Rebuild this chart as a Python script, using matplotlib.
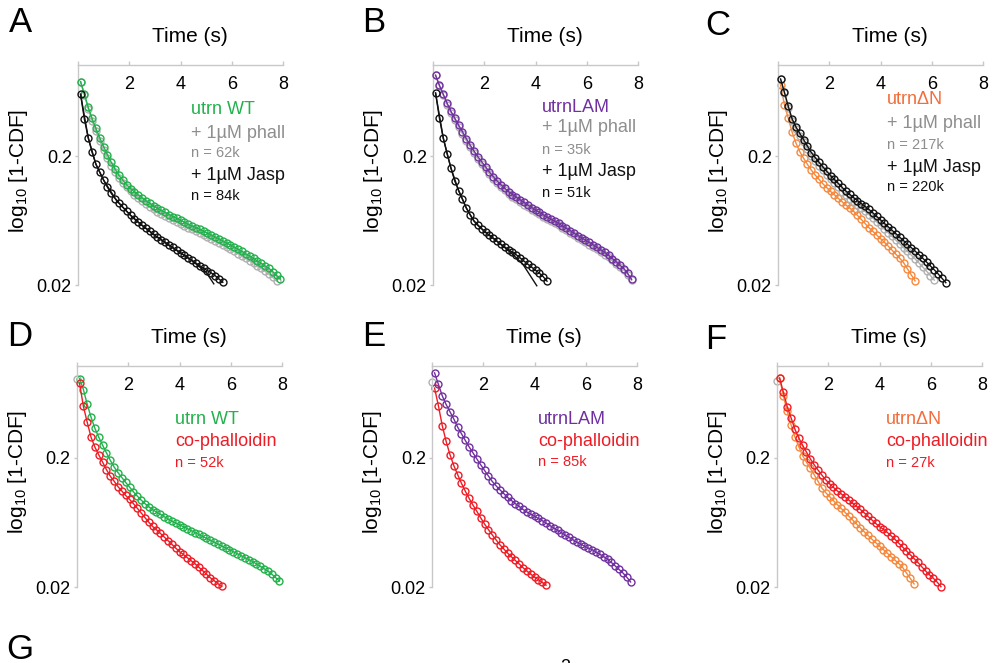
import numpy as np
import matplotlib
matplotlib.use("Agg")
import matplotlib.pyplot as plt
from matplotlib.ticker import NullLocator

plt.rcParams['font.family'] = ['Liberation Sans', 'DejaVu Sans']
plt.rcParams['mathtext.default'] = 'regular'

W, H = 997, 663

# shared time grid of the binned dwell-time curves (s)
TIME = [0.10, 0.25, 0.40, 0.55, 0.70, 0.85, 1.00, 1.15, 1.30, 1.45,
        1.60, 1.75, 1.90, 2.05, 2.20, 2.35, 2.50, 2.65, 2.80, 2.95,
        3.10, 3.25, 3.40, 3.55, 3.70, 3.85, 4.00, 4.15, 4.30, 4.45,
        4.60, 4.75, 4.90, 5.05, 5.20, 5.35, 5.50, 5.65, 5.80, 5.95,
        6.10, 6.25, 6.40, 6.55, 6.70, 6.85, 7.00, 7.15, 7.30, 7.45,
        7.60, 7.75, 7.90]

# log10(1-CDF)
A_WT = [-0.116, -0.214, -0.316, -0.403, -0.481, -0.554, -0.622, -0.686, -0.745, -0.798,
        -0.846, -0.884, -0.919, -0.949, -0.974, -0.999, -1.021, -1.043, -1.064, -1.085,
        -1.102, -1.118, -1.134, -1.151, -1.166, -1.180, -1.195, -1.210, -1.225, -1.239,
        -1.252, -1.266, -1.280, -1.295, -1.309, -1.324, -1.339, -1.355, -1.371, -1.387,
        -1.403, -1.420, -1.438, -1.456, -1.474, -1.492, -1.511, -1.530, -1.550, -1.569,
        -1.595, -1.624, -1.653]
A_PHALL = [-0.118, -0.222, -0.330, -0.422, -0.503, -0.578, -0.648, -0.712, -0.770, -0.822,
           -0.868, -0.906, -0.940, -0.970, -0.997, -1.022, -1.045, -1.067, -1.089, -1.110,
           -1.128, -1.145, -1.161, -1.177, -1.192, -1.207, -1.222, -1.237, -1.252, -1.266,
           -1.280, -1.294, -1.309, -1.324, -1.339, -1.355, -1.371, -1.387, -1.404, -1.421,
           -1.438, -1.456, -1.474, -1.492, -1.511, -1.530, -1.550, -1.570, -1.592, -1.615,
           -1.640, -1.668]
A_JASP = [-0.215, -0.410, -0.554, -0.667, -0.760, -0.822, -0.883, -0.939, -0.987, -1.026,
          -1.062, -1.094, -1.125, -1.157, -1.184, -1.211, -1.234, -1.257, -1.281, -1.305,
          -1.327, -1.346, -1.366, -1.387, -1.407, -1.427, -1.447, -1.467, -1.487, -1.507,
          -1.528, -1.549, -1.569, -1.587, -1.605, -1.626, -1.652, -1.678]
A_JASP_FIT_T = [0.1, 0.4, 0.7, 1.0, 1.5, 2.0, 2.5, 3.0, 3.5, 4.0, 4.5, 5.0, 5.3]
A_JASP_FIT = [-0.215, -0.554, -0.760, -0.883, -1.040, -1.147, -1.236, -1.313, -1.385,
              -1.450, -1.518, -1.600, -1.690]

B_LAM = [-0.066, -0.145, -0.214, -0.284, -0.347, -0.401, -0.455, -0.506, -0.560, -0.610,
         -0.656, -0.700, -0.740, -0.779, -0.819, -0.855, -0.888, -0.919, -0.946, -0.973,
         -0.995, -1.016, -1.036, -1.057, -1.077, -1.096, -1.115, -1.134, -1.153, -1.170,
         -1.186, -1.203, -1.220, -1.239, -1.257, -1.276, -1.295, -1.314, -1.332, -1.350,
         -1.368, -1.386, -1.406, -1.426, -1.446, -1.466, -1.493, -1.519, -1.545, -1.571,
         -1.609, -1.655]
B_PHALL = [-0.068, -0.150, -0.224, -0.296, -0.360, -0.415, -0.470, -0.522, -0.576, -0.626,
           -0.672, -0.716, -0.756, -0.795, -0.835, -0.871, -0.904, -0.935, -0.962, -0.989,
           -1.011, -1.032, -1.052, -1.073, -1.093, -1.112, -1.131, -1.150, -1.169, -1.186,
           -1.202, -1.219, -1.236, -1.255, -1.273, -1.292, -1.311, -1.330, -1.348, -1.366,
           -1.384, -1.402, -1.422, -1.442, -1.462, -1.482, -1.508, -1.533, -1.558, -1.583,
           -1.618, -1.662]
B_JASP = [-0.205, -0.400, -0.555, -0.678, -0.789, -0.890, -0.964, -1.031, -1.100, -1.154,
          -1.201, -1.236, -1.262, -1.288, -1.311, -1.334, -1.358, -1.382, -1.403, -1.424,
          -1.444, -1.464, -1.488, -1.513, -1.537, -1.560, -1.584, -1.607, -1.634, -1.669]
B_JASP_FIT_T = [0.1, 0.4, 0.7, 1.0, 1.3, 1.6, 2.0, 2.5, 3.0, 3.5, 4.05]
B_JASP_FIT = [-0.205, -0.555, -0.789, -0.964, -1.100, -1.201, -1.281, -1.360, -1.440,
              -1.535, -1.705]

C_DN = [-0.142, -0.295, -0.401, -0.509, -0.594, -0.662, -0.713, -0.761, -0.805, -0.843,
        -0.877, -0.911, -0.941, -0.970, -0.997, -1.024, -1.051, -1.077, -1.100, -1.125,
        -1.157, -1.189, -1.221, -1.253, -1.281, -1.310, -1.338, -1.366, -1.396, -1.428,
        -1.460, -1.491, -1.525, -1.573, -1.620, -1.667]
C_PHALL = [-0.098, -0.205, -0.318, -0.420, -0.485, -0.537, -0.588, -0.641, -0.692, -0.732,
           -0.770, -0.807, -0.842, -0.878, -0.909, -0.940, -0.972, -1.002, -1.029, -1.055,
           -1.079, -1.103, -1.127, -1.151, -1.178, -1.207, -1.236, -1.264, -1.292, -1.321,
           -1.350, -1.379, -1.408, -1.437, -1.466, -1.496, -1.527, -1.559, -1.592, -1.626,
           -1.661]
C_JASP = [-0.096, -0.199, -0.307, -0.406, -0.469, -0.519, -0.568, -0.619, -0.668, -0.707,
          -0.744, -0.780, -0.814, -0.848, -0.878, -0.908, -0.939, -0.968, -0.994, -1.019,
          -1.042, -1.065, -1.088, -1.111, -1.137, -1.165, -1.192, -1.219, -1.246, -1.273,
          -1.300, -1.327, -1.354, -1.381, -1.408, -1.435, -1.462, -1.491, -1.521, -1.551,
          -1.581, -1.613, -1.647, -1.681]

D_WT = [-0.085, -0.170, -0.285, -0.385, -0.471, -0.539, -0.601, -0.660, -0.718, -0.770,
        -0.813, -0.851, -0.889, -0.925, -0.961, -0.994, -1.025, -1.053, -1.077, -1.100,
        -1.118, -1.136, -1.154, -1.172, -1.188, -1.203, -1.217, -1.232, -1.247, -1.262,
        -1.277, -1.292, -1.307, -1.322, -1.337, -1.351, -1.366, -1.381, -1.396, -1.411,
        -1.426, -1.441, -1.456, -1.472, -1.487, -1.502, -1.520, -1.539, -1.557, -1.576,
        -1.599, -1.626, -1.653]
D_COPH = [-0.122, -0.300, -0.424, -0.540, -0.616, -0.676, -0.732, -0.790, -0.841, -0.880,
          -0.922, -0.956, -0.990, -1.020, -1.053, -1.088, -1.124, -1.161, -1.197, -1.230,
          -1.256, -1.283, -1.311, -1.339, -1.368, -1.397, -1.426, -1.447, -1.471, -1.495,
          -1.518, -1.545, -1.572, -1.599, -1.627, -1.650, -1.673, -1.695]

E_LAM = [-0.040, -0.129, -0.218, -0.285, -0.341, -0.397, -0.460, -0.512, -0.564, -0.614,
         -0.660, -0.707, -0.752, -0.796, -0.839, -0.881, -0.915, -0.946, -0.975, -1.005,
         -1.029, -1.053, -1.075, -1.098, -1.118, -1.135, -1.151, -1.168, -1.185, -1.204,
         -1.223, -1.242, -1.261, -1.279, -1.297, -1.315, -1.333, -1.352, -1.367, -1.382,
         -1.398, -1.410, -1.428, -1.446, -1.464, -1.483, -1.509, -1.536, -1.563, -1.590,
         -1.623, -1.660]
E_COPH = [-0.158, -0.295, -0.449, -0.570, -0.673, -0.758, -0.828, -0.896, -0.957, -1.013,
          -1.065, -1.113, -1.163, -1.211, -1.254, -1.295, -1.334, -1.372, -1.404, -1.436,
          -1.465, -1.493, -1.520, -1.549, -1.575, -1.599, -1.622, -1.642, -1.663, -1.685]

F_DN = [-0.077, -0.222, -0.338, -0.443, -0.538, -0.612, -0.681, -0.732, -0.780, -0.829,
        -0.879, -0.932, -0.968, -0.998, -1.030, -1.060, -1.090, -1.120, -1.150, -1.180,
        -1.210, -1.240, -1.270, -1.300, -1.328, -1.355, -1.382, -1.409, -1.436, -1.463,
        -1.490, -1.517, -1.547, -1.590, -1.632, -1.675]
F_COPH = [-0.080, -0.191, -0.303, -0.389, -0.477, -0.545, -0.601, -0.654, -0.706, -0.752,
          -0.793, -0.832, -0.868, -0.900, -0.927, -0.954, -0.977, -1.001, -1.025, -1.050,
          -1.074, -1.098, -1.124, -1.152, -1.179, -1.206, -1.232, -1.252, -1.275, -1.302,
          -1.329, -1.359, -1.389, -1.419, -1.449, -1.479, -1.509, -1.542, -1.575, -1.605,
          -1.631, -1.661, -1.697]

# lone grey point at t = 0 in the lower panels
START_GREY = {'D': -0.090, 'E': -0.110, 'F': -0.105}

GREEN = '#22b14c'
GREY = '#b0b0b0'
GREY_TXT = '#8e8e8e'
PURPLE = '#7030a0'
ORANGE = '#f5893e'
ORANGE_TXT = '#f36d3a'
RED = '#ee1c25'
BLACK = '#111111'
AXIS = '#c8c8c8'


def fpx(x, y):
    return x / W, 1 - y / H


def make_axes(fig, left, top, width=205, height=220):
    ax = fig.add_axes([left / W, 1 - (top + height) / H, width / W, height / H])
    ax.set_yscale('log')
    ax.set_xlim(0, 8)
    ax.set_ylim(0.02, 1.03)
    ax.set_xticks([0, 2, 4, 6, 8])
    ax.set_xticklabels(['', '2', '4', '6', '8'])
    ax.set_yticks([0.02, 0.2])
    ax.set_yticklabels(['0.02', '0.2'])
    ax.yaxis.set_minor_locator(NullLocator())
    for s in ['bottom', 'right']:
        ax.spines[s].set_visible(False)
    for s in ['top', 'left']:
        ax.spines[s].set_color(AXIS)
        ax.spines[s].set_linewidth(1.0)
    ax.xaxis.tick_top()
    ax.tick_params(axis='x', direction='out', length=3, width=1, color=AXIS,
                   pad=-23, labelsize=13)
    ax.tick_params(axis='y', direction='out', length=2.5, width=1, color=AXIS,
                   pad=2, labelsize=13)
    ax.set_ylabel('log$_{10}$ [1-CDF]', fontsize=15)
    return ax


def curve(ax, logy, color, z):
    t = TIME[:len(logy)]
    y = 10 ** np.array(logy)
    ax.plot(t, y, '-', color=color, lw=1.0, zorder=z, clip_on=False)
    ax.plot(t, y, 'o', mfc='none', mec=color, ms=5.0, mew=1.0, zorder=z + 0.5,
            clip_on=False)


def fit_line(ax, t, logy, color, z):
    ax.plot(t, 10 ** np.array(logy), '-', color=color, lw=1.0, zorder=z, clip_on=False)


fig = plt.figure(figsize=(W / 100, H / 100), dpi=100)

# row 1
axA = make_axes(fig, 78, 65)
curve(axA, A_PHALL, GREY, 2)
curve(axA, A_WT, GREEN, 3)
curve(axA, A_JASP, BLACK, 4)
fit_line(axA, A_JASP_FIT_T, A_JASP_FIT, BLACK, 5)

axB = make_axes(fig, 433, 65)
curve(axB, B_PHALL, GREY, 2)
curve(axB, B_LAM, PURPLE, 3)
curve(axB, B_JASP, BLACK, 4)
fit_line(axB, B_JASP_FIT_T, B_JASP_FIT, BLACK, 5)

axC = make_axes(fig, 778, 65)
curve(axC, C_DN, ORANGE, 2)
curve(axC, C_PHALL, GREY, 3)
curve(axC, C_JASP, BLACK, 4)

# row 2
axD = make_axes(fig, 77, 366, height=221)
curve(axD, D_WT, GREEN, 2)
curve(axD, D_COPH, RED, 3)

axE = make_axes(fig, 432, 366, height=221)
curve(axE, E_COPH, RED, 2)
curve(axE, E_LAM, PURPLE, 3)

axF = make_axes(fig, 777, 366, height=221)
curve(axF, F_DN, ORANGE, 2)
curve(axF, F_COPH, RED, 3)

for ax, key in [(axD, 'D'), (axE, 'E'), (axF, 'F')]:
    ax.plot([0.0], [10 ** START_GREY[key]], 'o', mfc='none', mec=GREY, ms=5.0,
            mew=1.0, zorder=1, clip_on=False)

for ax in [axA, axB, axC, axD, axE, axF]:
    ax.yaxis.set_label_coords(-0.235, 0.52)
    ax.text(0.545, 1.13, 'Time (s)', transform=ax.transAxes, ha='center',
            va='center', fontsize=15)

# panel letters
for letter, x, y in [('A', 9, 32), ('B', 362, 32), ('C', 705, 35),
                     ('D', 7, 346), ('E', 362, 346), ('F', 705, 349),
                     ('G', 6, 659)]:
    fig.text(*fpx(x, y), letter, fontsize=25, va='baseline', ha='left')

# start of the next panel, cut off by the figure edge
fig.text(*fpx(565, 659), '2', fontsize=13, va='top', ha='center')

# legends
big, small = 13, 10.5
rows = [
    (191, [(110, 'utrn WT', GREEN, big), (133, '+ 1µM phall', GREY_TXT, big),
           (153, 'n = 62k', GREY_TXT, small), (176, '+ 1µM Jasp', BLACK, big),
           (196, 'n = 84k', BLACK, small)]),
    (542, [(107, 'utrnLAM', PURPLE, big), (128, '+ 1µM phall', GREY_TXT, big),
           (150, 'n = 35k', GREY_TXT, small), (172, '+ 1µM Jasp', BLACK, big),
           (193, 'n = 51k', BLACK, small)]),
    (887, [(100, 'utrnΔN', ORANGE_TXT, big), (123, '+ 1µM phall', GREY_TXT, big),
           (145, 'n = 217k', GREY_TXT, small), (167, '+ 1µM Jasp', BLACK, big),
           (187, 'n = 220k', BLACK, small)]),
    (175, [(419, 'utrn WT', GREEN, big), (442, 'co-phalloidin', RED, big),
           (463, 'n = 52k', RED, small)]),
    (538, [(419, 'utrnLAM', PURPLE, big), (442, 'co-phalloidin', RED, big),
           (462, 'n = 85k', RED, small)]),
    (886, [(419, 'utrnΔN', ORANGE_TXT, big), (442, 'co-phalloidin', RED, big),
           (463, 'n = 27k', RED, small)]),
]
for x, lines in rows:
    for y, s, c, fs in lines:
        fig.text(*fpx(x, y), s, color=c, fontsize=fs, va='center', ha='left')

fig.savefig('out.png', dpi=100)
